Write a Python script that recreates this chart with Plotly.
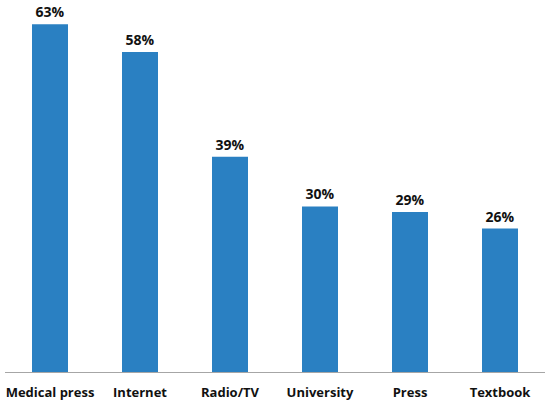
import plotly.graph_objects as go

sources = ["Medical press", "Internet", "Radio/TV", "University", "Press", "Textbook"]
shares = [63, 58, 39, 30, 29, 26]
labels = [f"{v}%" for v in shares]

fig = go.Figure(
    data=go.Bar(
        x=sources,
        y=shares,
        text=labels,
        textposition="outside",
        textfont=dict(family="Open Sans", size=14, color="#111111", weight="bold"),
        marker=dict(color="#2A80C2", line=dict(width=0)),
        cliponaxis=False,
    )
)
fig.update_layout(
    width=550,
    height=405,
    margin=dict(l=5, r=5, t=10, b=33),
    paper_bgcolor="white",
    plot_bgcolor="white",
    bargap=0.6,
    showlegend=False,
)
fig.update_xaxes(
    automargin=False,
    showline=True,
    linecolor="#A6A6A6",
    linewidth=1,
    ticks="",
    ticklabelstandoff=8,
    tickfont=dict(family="Open Sans", size=13, color="#111111", weight="bold"),
)
fig.update_yaxes(range=[0, 65.6], visible=False, showgrid=False, automargin=False)

# drop the browser's default body margin so the figure sits at the page corner
fig.write_html(
    "out.html",
    config={"displayModeBar": False},
    post_script="document.body.style.margin='0';",
)
